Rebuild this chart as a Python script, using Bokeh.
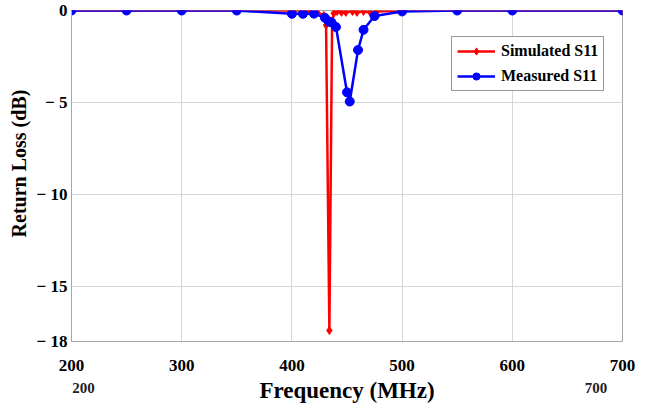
from bokeh.plotting import figure
from bokeh.models import (Range1d, FixedTicker, Legend, LegendItem, LinearAxis)
from bokeh.embed import file_html
from bokeh.resources import INLINE

# Simulated S11 (MHz, dB)
sim_freq = [200, 250, 300, 350, 400, 415, 423, 429, 431, 434, 436.5, 438, 441,
            445, 449, 455, 459, 465, 471, 477, 500, 550, 600, 700]
sim_db = [0, 0, 0, 0, 0, -0.02, -0.1, -0.27, -0.8, -17.4, -0.6, -0.15, -0.05,
          -0.1, -0.1, -0.05, -0.1, -0.05, -0.1, -0.05, 0, 0, 0, 0]

# Measured S11 (MHz, dB)
meas_freq = [200, 250, 300, 350, 400, 410, 420, 430, 433.5, 436, 440, 450,
             452.5, 460, 465, 475, 500, 550, 600, 700]
meas_db = [0, 0, 0, 0, -0.18, -0.18, -0.17, -0.4, -0.6, -0.65, -0.9, -4.45,
           -4.95, -2.15, -1.05, -0.3, -0.05, 0, 0, 0]

x_ticks = [200, 300, 400, 500, 600, 700]
y_ticks = [0, -5, -10, -15, -18]
y_tick_text = {0: "0", -5: "\u2212 5", -10: "\u2212 10", -15: "\u2212 15", -18: "\u2212 18"}

# range end markers printed under the tick labels
end_marks = [211, 676]
end_mark_text = {211: "200", 676: "700"}

FONT = "Liberation Serif"

p = figure(width=653, height=405, output_backend="svg", toolbar_location=None,
           x_range=Range1d(200, 700), y_range=Range1d(-18, 0),
           min_border_left=71, min_border_right=31, min_border_top=10,
           min_border_bottom=63)
p.background_fill_color = "white"
p.border_fill_color = "white"
p.outline_line_color = "#a8a8a8"
p.outline_line_width = 1

for ax in (p.xaxis[0], p.yaxis[0]):
    ax.major_label_text_font = FONT
    ax.major_label_text_font_style = "bold"
    ax.major_label_text_font_size = "17px"
    ax.major_label_text_color = "black"
    ax.axis_label_text_font = FONT
    ax.axis_label_text_font_style = "bold"
    ax.axis_label_text_color = "black"
    ax.axis_line_color = "#a8a8a8"
    ax.major_tick_line_color = None
    ax.minor_tick_line_color = None
    ax.major_tick_out = 0
    ax.major_tick_in = 0

p.xaxis.ticker = FixedTicker(ticks=x_ticks)
p.yaxis.ticker = FixedTicker(ticks=y_ticks)
p.yaxis.major_label_overrides = y_tick_text
# leading no-break spaces lift the title a little above the frame's centre
p.yaxis.axis_label = "\u00a0\u00a0\u00a0\u00a0\u00a0Return Loss (dB)"
p.yaxis.axis_label_text_font_size = "20px"
p.xaxis.major_label_standoff = 18
p.yaxis.major_label_standoff = 4
p.yaxis.axis_label_standoff = 4

# second bottom axis: end markers plus the axis title on the same line
bottom2 = LinearAxis(ticker=FixedTicker(ticks=end_marks),
                     major_label_overrides=end_mark_text,
                     major_label_text_font=FONT,
                     major_label_text_font_style="bold",
                     major_label_text_font_size="15px",
                     major_label_text_color="#222222",
                     major_label_standoff=9,
                     axis_line_color=None,
                     major_tick_line_color=None, minor_tick_line_color=None,
                     major_tick_in=0, major_tick_out=0,
                     axis_label="Frequency (MHz)",
                     axis_label_text_font=FONT,
                     axis_label_text_font_style="bold",
                     axis_label_text_font_size="23px",
                     axis_label_text_color="black",
                     axis_label_standoff=-18)
p.add_layout(bottom2, "below")

p.grid.grid_line_color = "#d6d6d6"
p.grid.grid_line_width = 1

red_line = p.line(sim_freq, sim_db, line_color="#ff0000", line_width=2.5)
red_pts = p.scatter(sim_freq, sim_db, marker="diamond", size=8,
                    fill_color="#ff0000", line_color="#ff0000")
blue_line = p.line(meas_freq, meas_db, line_color="#0000ff", line_width=2.5)
blue_pts = p.scatter(meas_freq, meas_db, marker="circle", size=9,
                     fill_color="#0000ff", line_color="#0000ff")

legend = Legend(items=[
    LegendItem(label="Simulated S11", renderers=[red_line, red_pts]),
    LegendItem(label="Measured S11", renderers=[blue_line, blue_pts]),
], location=(380, 250))
legend.label_text_font = FONT
legend.label_text_font_style = "bold"
legend.label_text_font_size = "16px"
legend.label_text_color = "black"
legend.glyph_width = 38
legend.glyph_height = 18
legend.label_standoff = 6
legend.padding = 5
legend.spacing = 7
legend.margin = 0
legend.border_line_color = "#333333"
legend.border_line_width = 1.5
legend.background_fill_alpha = 1
p.add_layout(legend)

open("out.html", "w").write(file_html(p, INLINE))
